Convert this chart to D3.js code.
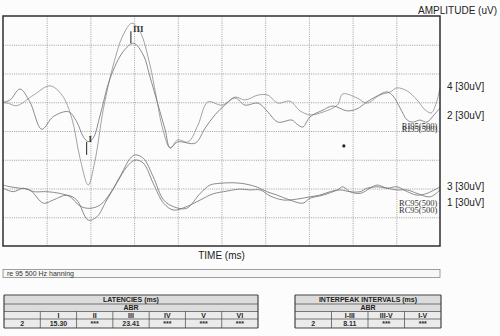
<!DOCTYPE html>
<html>
<head>
<meta charset="utf-8">
<script src="https://cdn.jsdelivr.net/npm/d3@7"></script>
<style>
  body { margin: 0; background: #fff; }
  svg { display: block; font-family: "Liberation Sans", Arial, sans-serif; }
</style>
</head>
<body>
<div id="chart"></div>
<script>
// time in ms (8 ms per division), amplitude in grid divisions from the bottom
const ch4Time = [0, 1.0, 2.5, 5.6, 8.6, 10.8, 12.6, 14.1, 15.6, 16.8, 18.4, 20.2, 22.0, 23.6, 25.1, 26.9, 28.0, 29.3, 30.6, 32.0, 33.9, 35.7, 37.5, 40.1, 42.5, 44.3, 46.7, 48.5, 50.3, 52.5, 54.4, 56.2, 58.6, 61.2, 62.2, 64.8, 66.6, 69.0, 70.9, 72.1, 74.0, 75.8, 77.3, 78.4, 79.3, 80]
const ch4Amp = [4.99, 4.96, 4.88, 5.25, 5.57, 5.25, 4.44, 3.05, 2.12, 2.93, 4.79, 6.30, 7.34, 7.75, 7.45, 6.30, 5.25, 4.03, 3.41, 3.69, 3.62, 4.21, 5.01, 4.90, 5.18, 5.08, 5.25, 5.25, 4.97, 5.04, 4.70, 4.56, 4.66, 4.90, 5.29, 5.15, 4.97, 5.25, 5.36, 5.50, 5.39, 5.08, 4.73, 4.63, 4.97, 5.50]

const ch2Time = [0, 1.3, 3.1, 4.9, 7.1, 9.2, 12.0, 13.5, 14.7, 15.6, 16.5, 17.8, 19.6, 22.0, 23.9, 25.7, 26.9, 28.4, 29.7, 30.6, 32.0, 35.2, 37.0, 38.8, 40.6, 42.5, 44.3, 46.7, 48.5, 50.3, 52.9, 53.8, 54.9, 56.2, 58.6, 60.4, 63.0, 64.8, 66.6, 68.5, 70.3, 71.4, 72.7, 74.0, 75.1, 76.3, 77.6, 78.9, 80]
const ch2Amp = [5.00, 5.08, 5.46, 5.02, 4.06, 4.50, 4.67, 4.32, 3.80, 3.63, 3.75, 4.56, 5.83, 6.76, 7.05, 6.64, 5.89, 4.90, 4.03, 3.41, 3.62, 3.58, 4.10, 4.56, 4.90, 5.15, 4.90, 4.97, 4.66, 4.31, 4.38, 4.24, 4.14, 4.49, 4.73, 4.87, 4.70, 4.77, 5.01, 5.22, 5.36, 5.22, 4.80, 4.38, 4.31, 4.38, 4.31, 4.56, 4.80]

const ch3Time = [0, 1.9, 3.7, 5.6, 8.0, 10.4, 12.3, 14.1, 15.9, 17.8, 19.6, 21.4, 23.3, 24.2, 25.7, 27.5, 29.4, 31.2, 33.6, 36.1, 37.9, 39.7, 42.1, 44.3, 46.5, 48.3, 50.2, 52.5, 54.9, 56.2, 58.6, 61.2, 62.2, 63.5, 65.4, 67.2, 68.5, 70.3, 72.1, 74.0, 75.8, 77.6, 80]
const ch3Amp = [2.01, 1.89, 2.01, 1.89, 1.89, 1.83, 1.71, 1.39, 1.31, 1.43, 1.83, 2.41, 3.05, 3.17, 3.05, 2.41, 1.60, 1.37, 1.31, 1.83, 2.12, 2.18, 2.20, 2.16, 2.05, 1.89, 1.77, 1.60, 1.49, 1.66, 1.77, 1.95, 2.06, 1.89, 1.83, 2.01, 2.12, 2.01, 2.06, 1.89, 1.77, 1.83, 2.06]

const ch1Time = [0, 1.3, 3.1, 4.9, 7.4, 9.2, 11.7, 13.5, 15.6, 17.2, 19.0, 20.8, 22.7, 24.2, 25.7, 27.5, 29.4, 31.2, 33.6, 36.1, 38.4, 41.0, 43.4, 45.2, 47.1, 48.9, 51.3, 53.8, 56.2, 58.0, 59.9, 61.7, 63.5, 65.4, 66.6, 68.5, 70.3, 72.1, 74.0, 75.8, 78.2, 80]
const ch1Amp = [2.12, 2.06, 2.01, 1.95, 1.49, 1.60, 1.77, 1.60, 0.90, 1.02, 1.60, 2.18, 2.76, 2.99, 2.88, 2.18, 1.49, 1.25, 1.37, 1.60, 1.81, 1.91, 1.98, 1.95, 1.95, 1.74, 1.60, 1.63, 1.71, 1.77, 1.89, 1.95, 1.89, 1.89, 2.01, 2.06, 2.01, 1.95, 1.95, 1.83, 1.71, 1.95]

const channelNames = ["4 [30uV]", "2 [30uV]", "3 [30uV]", "1 [30uV]"]
const channelLabelAmp = [5.55, 4.55, 2.06, 1.53]

// wave markers on channel 2
const peakNames = ["I", "III"]
const peakLatency = [15.30, 23.41]
const peakTop = [3.62, 7.47]
const peakBottom = [3.17, 7.05]

const stimNotes = ["RI95(500)", "RI95(500)", "RC95(500)", "RC95(500)"]
const stimNoteAmp = [4.08, 3.95, 1.38, 1.15]

const latencyCols = ["I", "II", "III", "IV", "V", "VI"]
const latencyVals = ["15.30", "***", "23.41", "***", "***", "***"]
const intervalCols = ["I-III", "III-V", "I-V"]
const intervalVals = ["8.11", "***", "***"]

const W = 500, H = 336
const plot = { left: 3, right: 440, top: 16, bottom: 246 }

const svg = d3.select("#chart").append("svg")
  .attr("width", W)
  .attr("height", H)

svg.append("rect").attr("width", W).attr("height", H).attr("fill", "#fcfcfc")

const x = d3.scaleLinear().domain([0, 80]).range([plot.left, plot.right])
const y = d3.scaleLinear().domain([0, 8]).range([plot.bottom, plot.top])

// grid
svg.append("g")
  .attr("transform", `translate(0,${plot.bottom})`)
  .call(d3.axisBottom(x).tickValues(d3.range(8, 80, 8)).tickSize(-(plot.bottom - plot.top)).tickFormat(""))
svg.append("g")
  .attr("transform", `translate(${plot.left},0)`)
  .call(d3.axisLeft(y).tickValues(d3.range(1, 8)).tickSize(-(plot.right - plot.left)).tickFormat(""))
svg.selectAll(".domain").remove()
svg.selectAll(".tick line")
  .attr("stroke", "#8a8a8a")
  .attr("stroke-width", 0.8)
  .attr("stroke-dasharray", "1,1.2")

// traces
const line = d3.line()
  .x(d => x(d[0]))
  .y(d => y(d[1]))
  .curve(d3.curveCatmullRom.alpha(0.5))

const traces = [
  d3.zip(ch4Time, ch4Amp),
  d3.zip(ch2Time, ch2Amp),
  d3.zip(ch3Time, ch3Amp),
  d3.zip(ch1Time, ch1Amp),
]
svg.append("g")
  .selectAll("path")
  .data(traces)
  .join("path")
  .attr("d", line)
  .attr("fill", "none")
  .attr("stroke", (d, i) => i === 0 ? "#929292" : "#777")
  .attr("stroke-width", 0.85)

// peak markers
const markers = svg.append("g")
peakNames.forEach((name, i) => {
  markers.append("line")
    .attr("x1", x(peakLatency[i])).attr("x2", x(peakLatency[i]))
    .attr("y1", y(peakTop[i])).attr("y2", y(peakBottom[i]))
    .attr("stroke", "#444").attr("stroke-width", 1.2)
  markers.append("text")
    .attr("x", x(peakLatency[i]) + 2)
    .attr("y", y(peakTop[i]) + 0.5)
    .attr("font-family", "Liberation Serif, serif")
    .attr("font-size", 9)
    .attr("font-weight", "bold")
    .attr("fill", "#333")
    .text(name)
})

// stray dot
svg.append("circle").attr("cx", x(62.4)).attr("cy", y(3.48)).attr("r", 1.6).attr("fill", "#222")

// notes near the end of traces
svg.append("g")
  .selectAll("text")
  .data(stimNotes)
  .join("text")
  .attr("x", x(79.5))
  .attr("y", (d, i) => y(stimNoteAmp[i]))
  .attr("text-anchor", "end")
  .attr("font-family", "Liberation Serif, serif")
  .attr("font-size", 8.5)
  .attr("fill", "#333")
  .text(d => d)

// border
svg.append("rect")
  .attr("x", plot.left).attr("y", plot.top)
  .attr("width", plot.right - plot.left).attr("height", plot.bottom - plot.top)
  .attr("fill", "none").attr("stroke", "#2e2e2e").attr("stroke-width", 1.5)

// channel labels
svg.append("g")
  .selectAll("text")
  .data(channelNames)
  .join("text")
  .attr("x", plot.right + 7)
  .attr("y", (d, i) => y(channelLabelAmp[i]) + 3.5)
  .attr("font-size", 10)
  .attr("fill", "#222")
  .text(d => d)

svg.append("text")
  .attr("x", 497).attr("y", 14)
  .attr("text-anchor", "end")
  .attr("font-size", 10)
  .attr("fill", "#222")
  .text("AMPLITUDE (uV)")

svg.append("text")
  .attr("x", (plot.left + plot.right) / 2).attr("y", 259)
  .attr("text-anchor", "middle")
  .attr("font-size", 10)
  .attr("fill", "#222")
  .text("TIME (ms)")

// filter box
svg.append("rect")
  .attr("x", plot.left).attr("y", 269.5)
  .attr("width", plot.right - plot.left).attr("height", 8)
  .attr("fill", "#f7f7f7").attr("stroke", "#888").attr("stroke-width", 0.8)
svg.append("text")
  .attr("x", plot.left + 4).attr("y", 276)
  .attr("font-size", 7)
  .attr("fill", "#333")
  .text("re 95 500 Hz hanning")

// tables
const rowY = [295, 304, 311.5, 319, 328]

function drawTable(x0, x1, title, cols, vals) {
  const g = svg.append("g")
  const band = d3.scaleBand().domain(["row"].concat(cols)).range([x0, x1])
  g.append("rect").attr("x", x0).attr("y", rowY[0]).attr("width", x1 - x0).attr("height", rowY[2] - rowY[0]).attr("fill", "#dcdcdc")
  g.append("rect").attr("x", x0).attr("y", rowY[2]).attr("width", x1 - x0).attr("height", rowY[4] - rowY[2]).attr("fill", "#ebebeb")
  g.selectAll(".hline")
    .data(rowY)
    .join("line")
    .attr("class", "hline")
    .attr("x1", x0).attr("x2", x1)
    .attr("y1", d => d).attr("y2", d => d)
    .attr("stroke", "#444").attr("stroke-width", (d, i) => (i === 0 || i === 4) ? 1.2 : 0.7)
  g.selectAll(".vline")
    .data(band.domain().slice(1))
    .join("line")
    .attr("class", "vline")
    .attr("x1", d => band(d)).attr("x2", d => band(d))
    .attr("y1", rowY[2]).attr("y2", rowY[4])
    .attr("stroke", "#444").attr("stroke-width", 0.7)
  g.append("line").attr("x1", x0).attr("x2", x0).attr("y1", rowY[0]).attr("y2", rowY[4]).attr("stroke", "#444").attr("stroke-width", 1.2)
  g.append("line").attr("x1", x1).attr("x2", x1).attr("y1", rowY[0]).attr("y2", rowY[4]).attr("stroke", "#444").attr("stroke-width", 1.2)

  const mid = (x0 + x1) / 2
  g.append("text").attr("x", mid).attr("y", rowY[1] - 1.8).attr("text-anchor", "middle")
    .attr("font-size", 7).attr("font-weight", "bold").attr("fill", "#222").text(title)
  g.append("text").attr("x", mid).attr("y", rowY[2] - 1.4).attr("text-anchor", "middle")
    .attr("font-size", 7).attr("font-weight", "bold").attr("fill", "#222").text("ABR")

  g.selectAll(".colname")
    .data(cols)
    .join("text")
    .attr("class", "colname")
    .attr("x", d => band(d) + band.bandwidth() / 2)
    .attr("y", rowY[3] - 1.4)
    .attr("text-anchor", "middle")
    .attr("font-size", 7).attr("font-weight", "bold").attr("fill", "#222")
    .text(d => d)

  const rowVals = ["2"].concat(vals)
  g.selectAll(".cellval")
    .data(band.domain())
    .join("text")
    .attr("class", "cellval")
    .attr("x", d => band(d) + band.bandwidth() / 2)
    .attr("y", rowY[4] - 2.3)
    .attr("text-anchor", "middle")
    .attr("font-size", 7).attr("font-weight", "bold").attr("fill", "#2a2a2a")
    .text((d, i) => rowVals[i])
}

drawTable(4, 258, "LATENCIES (ms)", latencyCols, latencyVals)
drawTable(295, 441, "INTERPEAK INTERVALS (ms)", intervalCols, intervalVals)
</script>
</body>
</html>
